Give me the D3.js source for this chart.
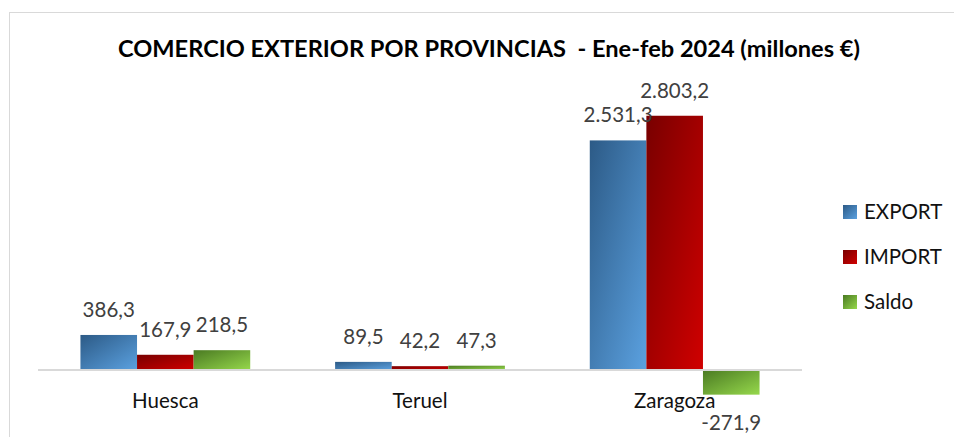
<!DOCTYPE html>
<html>
<head>
<meta charset="utf-8">
<script src="https://cdn.jsdelivr.net/npm/d3@7"></script>
<style>
  html, body { margin: 0; padding: 0; background: #fff; }
  svg { display: block; }
</style>
</head>
<body>
<svg id="chart" width="954" height="437"></svg>
<script>
const categories = ["Huesca", "Teruel", "Zaragoza"];
const seriesNames = ["EXPORT", "IMPORT", "Saldo"];
const exportValues = [386.3, 89.5, 2531.3];
const importValues = [167.9, 42.2, 2803.2];
const saldoValues = [218.5, 47.3, -271.9];
const titleText = "COMERCIO EXTERIOR POR PROVINCIAS  - Ene-feb 2024 (millones €)";

const seriesValues = [exportValues, importValues, saldoValues];
const fmt = v => {
  const s = d3.format(",.1f")(v);
  return s.replace(/,/g, "#").replace(".", ",").replace(/#/g, ".").replace("−", "-");
};

const svg = d3.select("#chart");
const W = 954, H = 437;

// frame
svg.append("rect").attr("x", 9.5).attr("y", 12.5).attr("width", W + 10).attr("height", H + 10)
  .attr("fill", "#fff").attr("stroke", "#d9d9d9").attr("stroke-width", 1);

// gradients
const defs = svg.append("defs");
const grads = [
  ["g0", "#2c5a86", "#5ba1e0"],
  ["g1", "#780000", "#d00000"],
  ["g2", "#4a7a22", "#96d84c"]
];
grads.forEach(([id, c1, c2]) => {
  const g = defs.append("linearGradient").attr("id", id)
    .attr("x1", 0).attr("y1", 0).attr("x2", 1).attr("y2", 1);
  g.append("stop").attr("offset", "0%").attr("stop-color", c1);
  g.append("stop").attr("offset", "100%").attr("stop-color", c2);
});

const x0 = d3.scaleBand().domain(categories).range([38, 802])
  .paddingInner(1/3).paddingOuter(1/6);
const x1 = d3.scaleBand().domain(seriesNames).range([0, x0.bandwidth()]).padding(0);
const y = d3.scaleLinear().domain([-500, 3000]).range([415.35, 97.9]);

// title
svg.append("text").attr("x", 489).attr("y", 57).attr("text-anchor", "middle")
  .attr("font-family", "Lato, 'Open Sans', sans-serif").attr("font-weight", "bold")
  .attr("font-size", 23).attr("fill", "#000")
  .style("white-space", "pre").attr("xml:space", "preserve")
  .attr("textLength", 742).attr("lengthAdjust", "spacingAndGlyphs")
  .text(titleText);

// bars
const groups = svg.append("g").selectAll("g").data(categories).join("g")
  .attr("transform", d => `translate(${x0(d)},0)`);

groups.each(function(cat, ci) {
  const g = d3.select(this);
  seriesNames.forEach((s, si) => {
    const v = seriesValues[si][ci];
    g.append("rect")
      .attr("x", x1(s)).attr("width", x1.bandwidth())
      .attr("y", Math.min(y(v), y(0))).attr("height", Math.abs(y(v) - y(0)))
      .attr("fill", `url(#g${si})`);
  });
});

// axis line
svg.append("line").attr("x1", 38).attr("x2", 802).attr("y1", y(0)).attr("y2", y(0))
  .attr("stroke", "#d9d9d9").attr("stroke-width", 2);

// data labels
groups.each(function(cat, ci) {
  const g = d3.select(this);
  seriesNames.forEach((s, si) => {
    const v = seriesValues[si][ci];
    g.append("text")
      .attr("x", x1(s) + x1.bandwidth() / 2)
      .attr("y", v >= 0 ? y(v) - 18 : y(v) + 35)
      .attr("text-anchor", "middle")
      .attr("font-family", "Lato, 'Open Sans', sans-serif").attr("font-size", 20.5)
      .attr("fill", "#404040")
      .text(fmt(v));
  });
});

// category labels
svg.append("g").selectAll("text").data(categories).join("text")
  .attr("x", d => x0(d) + x0.bandwidth() / 2).attr("y", 408)
  .attr("text-anchor", "middle")
  .attr("font-family", "Lato, 'Open Sans', sans-serif").attr("font-size", 20.5)
  .attr("fill", "#111")
  .text(d => d);

// legend
const leg = svg.append("g").selectAll("g").data(seriesNames).join("g")
  .attr("transform", (d, i) => `translate(843,${205 + i * 45})`);
leg.append("rect").attr("width", 14).attr("height", 14).attr("fill", (d, i) => `url(#g${i})`);
leg.append("text").attr("x", 21).attr("y", 13.5)
  .attr("font-family", "Lato, 'Open Sans', sans-serif").attr("font-size", 20.5)
  .attr("fill", "#111").text(d => d);
</script>
</body>
</html>
